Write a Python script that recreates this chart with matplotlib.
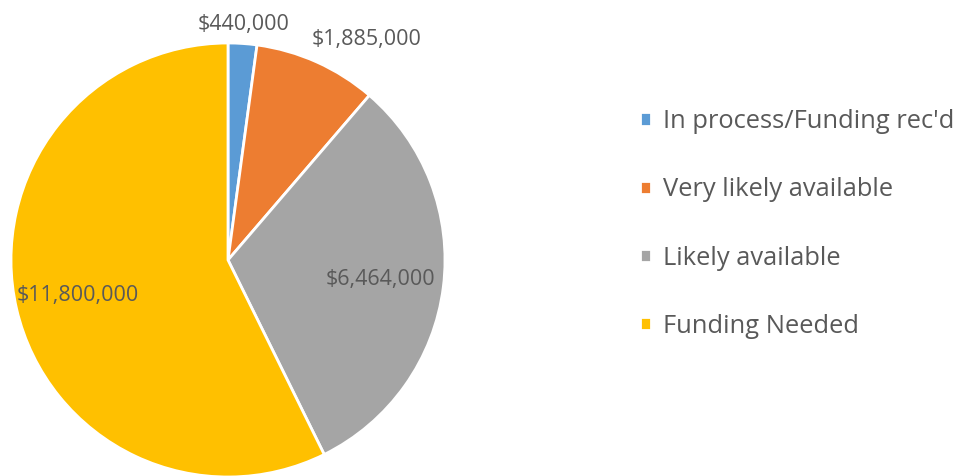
import matplotlib.pyplot as plt
import numpy as np

labels = ["In process/Funding rec'd", "Very likely available", "Likely available", "Funding Needed"]
values = [440000, 1885000, 6464000, 11800000]
colors = ['#5B9BD5', '#ED7D31', '#A5A5A5', '#FFC000']
# label distance from centre (fraction of radius) for each slice
dists = [1.09, 1.20, 0.71, 0.71]

plt.rcParams['font.family'] = ['Open Sans', 'DejaVu Sans']
txt = '#595959'

fig = plt.figure(figsize=(9.63, 4.76), dpi=100)
ax = fig.add_axes([0, 0, 1, 1])

cx, cy, r = 228, 216, 217
wedges, _ = ax.pie(values, colors=colors, startangle=90, counterclock=False,
                   center=(cx, cy), radius=r,
                   wedgeprops=dict(edgecolor='white', linewidth=2))

for w, v, d in zip(wedges, values, dists):
    ang = np.deg2rad((w.theta1 + w.theta2) / 2)
    if d > 1:
        # outside labels sit a bit toward the top
        ang = np.deg2rad((w.theta1 + w.theta2) / 2 - (8 if v > 1000000 else 0))
    ax.text(cx + r * d * np.cos(ang), cy + r * d * np.sin(ang), '${:,}'.format(v),
            ha='center', va='center', fontsize=15.5, color=txt)

ax.set_xlim(0, 963)
ax.set_ylim(0, 476)
ax.set_aspect('equal')
ax.axis('off')

leg = ax.legend(wedges, labels, loc='upper left', bbox_to_anchor=(0.641, 0.819),
                frameon=False, fontsize=18.4, labelcolor=txt,
                handlelength=0.42, handleheight=0.42, handletextpad=0.45,
                labelspacing=1.69)

plt.savefig('out.png', dpi=100)
